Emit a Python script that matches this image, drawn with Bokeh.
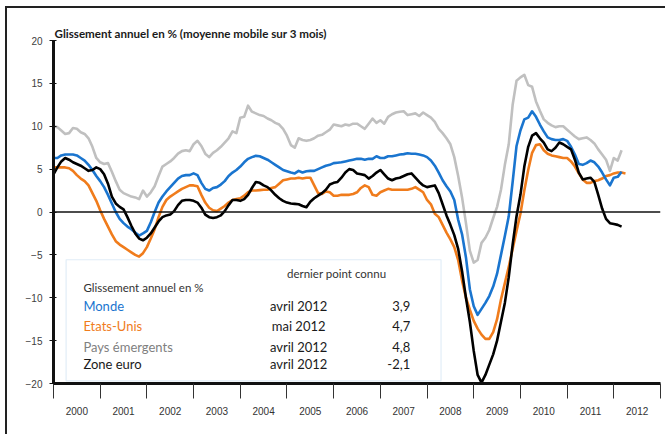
from bokeh.plotting import figure
from bokeh.models import FixedTicker, Span, BoxAnnotation, Label
from bokeh.embed import file_html
from bokeh.resources import INLINE
from bokeh.core.properties import value

# ---------------- data (monthly, starting January 2000) ----------------
start_year = 2000

emergents = [10.0, 9.9, 9.5, 9.1, 9.2, 9.8, 9.7, 9.3, 9.1, 8.6, 7.6, 6.3,
             5.8, 5.6, 5.7, 4.7, 3.6, 2.6, 2.2, 2.0, 1.8, 1.7, 1.5, 2.5,
             1.8, 2.3, 3.0, 4.2, 5.3, 5.6, 5.9, 6.3, 6.8, 7.1, 7.2, 7.1,
             7.9, 8.3, 7.7, 6.8, 6.4, 6.9, 7.2, 7.6, 8.1, 8.6, 9.4, 9.2,
             11.0, 11.1, 12.4, 11.7, 11.5, 11.3, 11.2, 10.9, 10.7, 10.4, 10.2, 9.7,
             8.9, 7.8, 7.5, 8.6, 8.4, 8.3, 8.4, 8.6, 8.9, 9.0, 9.3, 9.6,
             10.2, 10.1, 10.0, 10.2, 10.1, 10.3, 10.3, 10.0, 9.7, 10.3, 10.9, 10.4,
             10.7, 10.3, 11.1, 11.4, 11.6, 11.7, 11.75, 11.3, 11.4, 11.5, 11.2, 11.6,
             11.3, 11.0, 10.5, 9.7, 9.2, 8.6, 7.9, 6.4, 4.2, 1.7, -1.3, -4.5,
             -5.9, -5.6, -3.6, -3.0, -2.1, -0.7, 0.6, 2.6, 5.5, 7.9, 12.5, 15.3,
             15.7, 16.0, 14.8, 14.6, 12.9, 11.8, 10.8, 10.4, 10.1, 9.9, 10.0, 10.0,
             9.6, 9.2, 8.8, 8.5, 8.6, 8.7, 8.4, 8.0, 7.3, 6.7, 6.1, 4.8,
             6.3, 6.0, 7.2]

monde = [6.3, 6.3, 6.6, 6.7, 6.7, 6.7, 6.6, 6.3, 6.0, 5.5, 4.9, 4.2,
         3.6, 2.9, 2.0, 1.0, 0.0, -0.8, -1.3, -1.7, -2.0, -2.4, -2.75, -2.5,
         -2.2, -1.2, 0.0, 1.1, 1.8, 2.4, 2.9, 3.4, 3.9, 4.2, 4.3, 4.3,
         4.5, 4.3, 3.4, 2.7, 2.5, 2.8, 2.9, 3.2, 3.6, 4.2, 4.6, 4.9,
         5.3, 5.8, 6.2, 6.4, 6.55, 6.5, 6.3, 6.1, 5.8, 5.5, 5.2, 4.9,
         4.75, 4.6, 4.5, 4.8, 4.6, 4.75, 4.8, 4.8, 5.0, 5.2, 5.4, 5.5,
         5.7, 5.75, 5.8, 5.9, 6.0, 6.1, 6.2, 6.2, 6.1, 6.2, 6.2, 6.5,
         6.3, 6.3, 6.5, 6.5, 6.6, 6.7, 6.75, 6.85, 6.8, 6.8, 6.7, 6.6,
         6.4, 6.0, 5.4, 4.6, 3.7, 3.0, 2.4, 1.4, -0.9, -2.6, -5.3, -9.0,
         -11.0, -12.0, -11.3, -10.6, -9.8, -8.7, -7.2, -5.0, -2.8, -0.5, 3.5, 7.7,
         9.5, 10.8, 11.0, 11.75, 11.1, 10.2, 9.4, 8.7, 8.5, 8.4, 8.4, 8.5,
         8.3, 7.6, 6.7, 5.6, 5.5, 5.7, 6.0, 5.8, 5.3, 4.6, 3.8, 3.1,
         4.0, 4.1, 4.7]

etats_unis = [5.2, 5.2, 5.2, 5.2, 5.1, 4.8, 4.3, 3.9, 3.6, 3.1, 2.2, 1.3,
              0.2, -0.8, -1.7, -2.6, -3.4, -3.8, -4.1, -4.4, -4.7, -5.0, -5.2, -4.8,
              -4.1, -3.1, -2.0, -0.6, 0.6, 1.4, 1.8, 2.1, 2.4, 2.7, 2.9, 3.1,
              3.1, 3.0, 2.0, 1.1, 0.5, 0.2, 0.1, 0.4, 0.7, 1.1, 1.4, 1.5,
              1.6, 1.9, 2.3, 2.5, 2.5, 2.55, 2.6, 2.6, 2.8, 2.9, 3.3, 3.7,
              3.8, 3.9, 3.9, 4.0, 3.9, 4.0, 4.0, 3.1, 2.2, 2.1, 2.4, 2.3,
              1.9, 1.9, 2.0, 2.0, 2.0, 2.1, 2.3, 2.8, 3.1, 2.9, 2.0, 1.9,
              2.3, 2.5, 2.7, 2.6, 2.6, 2.6, 2.6, 2.6, 2.7, 2.9, 2.6, 2.3,
              1.4, 0.9, -0.2, -0.6, -1.5, -2.4, -3.2, -4.1, -5.6, -8.0, -10.0, -11.4,
              -12.7, -13.6, -14.3, -14.8, -14.8, -14.0, -12.5, -10.2, -8.3, -6.4, -4.3, -2.2,
              -0.2, 2.5, 4.9, 6.9, 7.8, 7.9, 7.2, 6.8, 6.6, 6.5, 6.4, 6.3,
              6.3, 5.9, 5.3, 4.5, 3.8, 3.4, 3.4, 3.6, 3.7, 3.9, 4.2, 4.3,
              4.5, 4.6, 4.6, 4.5]

zone_euro = [4.4, 5.2, 5.9, 6.3, 6.1, 5.8, 5.6, 5.4, 5.1, 4.8, 4.9, 5.2,
             5.0, 4.4, 3.3, 1.8, 1.0, 0.6, 0.3, -0.6, -1.6, -2.5, -3.1, -3.3,
             -3.0, -2.5, -1.8, -1.1, -0.6, -0.4, -0.3, 0.1, 0.8, 1.3, 1.4, 1.4,
             1.3, 1.1, 0.5, -0.3, -0.6, -0.7, -0.6, -0.4, 0.1, 0.8, 1.4, 1.4,
             1.3, 1.5, 2.0, 2.8, 3.5, 3.4, 3.1, 2.9, 2.5, 2.0, 1.6, 1.3,
             1.1, 1.0, 0.95, 0.9, 0.7, 0.55, 1.2, 1.6, 1.9, 2.2, 2.6, 3.2,
             3.4, 3.5, 4.0, 4.6, 5.0, 4.9, 4.5, 4.4, 4.3, 3.9, 4.2, 4.6,
             4.9, 4.4, 3.9, 3.7, 3.9, 4.0, 4.2, 4.4, 4.5, 4.0, 3.5, 3.1,
             2.9, 3.0, 3.1, 2.2, 0.9, -0.4, -1.5, -2.7, -4.3, -6.9, -10.0, -12.8,
             -16.2, -19.0, -19.9, -19.0, -17.8, -16.6, -15.0, -12.8, -10.6, -7.6, -3.8, -0.5,
             2.0, 5.3, 7.6, 8.9, 9.2, 8.6, 8.1, 7.3, 7.1, 7.5, 8.1, 7.9,
             7.6, 7.3, 6.1, 4.6, 3.8, 3.9, 4.0, 3.5, 2.0, 0.4, -0.8, -1.3,
             -1.4, -1.5, -1.7]

years = list(range(2000, 2013))
y_ticks = [-20, -15, -10, -5, 0, 5, 10, 15, 20]

title_text = "Glissement annuel en % (moyenne mobile sur 3 mois)"
box_header = "dernier point connu"
box_subtitle = "Glissement annuel en %"
legend_names = ["Monde", "Etats-Unis", "Pays émergents", "Zone euro"]
legend_dates = ["avril 2012", "mai 2012", "avril 2012", "avril 2012"]
legend_values = ["3,9", "4,7", "4,8", "-2,1"]

# ---------------- styles ----------------
BLUE = "#1a75cf"
ORANGE = "#f07c1c"
GRAY = "#c0c0c0"
BLACK = "#000000"
legend_colors = [BLUE, ORANGE, "#808080", "#1a1a1a"]
series = [(emergents, GRAY), (etats_unis, ORANGE), (monde, BLUE), (zone_euro, BLACK)]
FONT = "Lato"


def month_axis(vals):
    return [start_year + i / 12 for i in range(len(vals))]


p = figure(width=660, height=428, x_range=(2000, 2013), y_range=(-20, 20),
           output_backend="svg", toolbar_location=None,
           min_border_left=46, min_border_right=7, min_border_top=32, min_border_bottom=53)
p.styles = {"margin-left": "5px", "margin-top": "6px",
            "border-left": "2px solid #222222", "border-top": "2px solid #222222"}
p.xgrid.visible = False
p.ygrid.visible = False
p.outline_line_color = None
p.background_fill_color = "white"
p.border_fill_color = "white"

# title (left aligned with the frame)
p.title.text = title_text
p.title.align = "left"
p.title.offset = 1
p.title.standoff = 1
p.title.text_font = FONT
p.title.text_font_size = "11.6px"
p.title.text_font_style = "bold"
p.title.text_color = "#1a1a1a"

# y axis
ya = p.yaxis[0]
ya.ticker = FixedTicker(ticks=y_ticks, minor_ticks=[])
ya.axis_line_width = 3
ya.axis_line_color = "#111111"
ya.major_tick_in = 3
ya.major_tick_out = 4
ya.major_tick_line_color = "#111111"
ya.minor_tick_line_color = None
ya.major_label_text_font = "Liberation Sans"
ya.major_label_text_font_size = "10px"
ya.major_label_text_color = "#404040"
ya.major_label_standoff = 7

# x axis: labels centred in each year, tick marks at year boundaries
xa = p.xaxis[0]
xa.ticker = FixedTicker(ticks=[y + 0.5 for y in years], minor_ticks=years + [2013])
xa.major_label_overrides = {y + 0.5: str(y) for y in years}
xa.axis_line_width = 3
xa.axis_line_color = "#111111"
xa.major_tick_in = 0
xa.major_tick_out = 0
xa.minor_tick_in = 0
xa.minor_tick_out = 15
xa.minor_tick_line_color = "#333333"
xa.minor_tick_line_width = 1
xa.major_label_text_font = "Liberation Sans"
xa.major_label_text_font_size = "10px"
xa.major_label_text_color = "#333333"
xa.major_label_standoff = 8

# zero line
p.add_layout(Span(location=0, dimension="width", line_color="#111111", line_width=1.5))

for vals, col in series:
    p.line(month_axis(vals), vals, line_color=col, line_width=2.6, line_join="round")

# legend table box (border only)
p.add_layout(BoxAnnotation(left=2000.27, right=2008.30, top=-5.57, bottom=-19.7,
                           fill_alpha=0, line_color="#9cc2e5", line_width=1.2))

p.add_layout(Label(x=2005.0, y=-7.2, text=box_header, text_font=FONT,
                   text_font_size="11.5px", text_color="#333333", text_baseline="middle"))
p.add_layout(Label(x=2000.64, y=-8.8, text=box_subtitle, text_font=FONT,
                   text_font_size="11.5px", text_color="#333333", text_baseline="middle"))
row_y = [-11.0, -13.35, -15.7, -17.7]
p.text(x=[2000.64] * 4, y=row_y, text=legend_names, text_color=legend_colors,
       text_font=value(FONT), text_font_size="13px", text_baseline="middle")
p.text(x=[2005.25] * 4, y=row_y, text=legend_dates, text_color="#1a1a1a",
       text_font=value(FONT), text_font_size="13px", text_baseline="middle", text_align="center")
p.text(x=[2007.64] * 4, y=row_y, text=legend_values, text_color="#1a1a1a",
       text_font=value(FONT), text_font_size="13px", text_baseline="middle", text_align="right")

open("out.html", "w").write(file_html(p, INLINE))
